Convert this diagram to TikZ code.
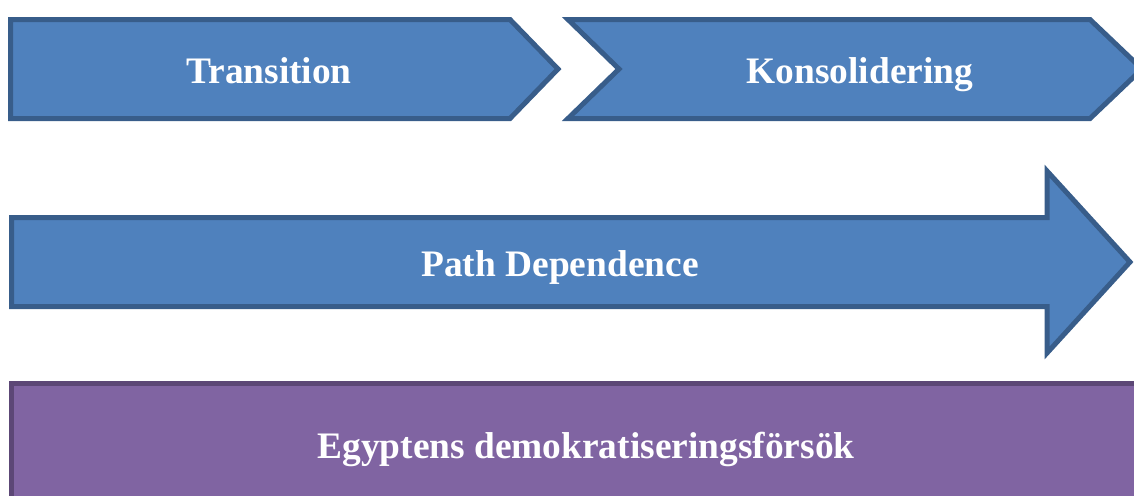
\documentclass[tikz,border=0pt]{standalone}
\usepackage{fontspec}
\setmainfont{Liberation Serif}
\usetikzlibrary{arrows}
\definecolor{phaseblue}{HTML}{4F81BD}
\definecolor{phaseedge}{HTML}{385D8A}
\definecolor{casepurple}{HTML}{8064A2}
\definecolor{caseedge}{HTML}{5C4776}

\begin{document}
\begin{tikzpicture}[x=0.5pt,y=-0.5pt,line width=2.5pt,line join=miter]
	\tikzstyle{phase}=[fill=phaseblue,draw=phaseedge]
	\tikzstyle{case}=[fill=casepurple,draw=caseedge]
	\tikzstyle{heading}=[text=white,anchor=base,inner sep=0pt,font=\fontsize{18.7}{22}\selectfont\bfseries]

  \useasboundingbox (0,0) rectangle (1134,495);
  \clip (0,0) rectangle (1134,495);

  \draw[phase] (10.5,19.5) -- (510,19.5) -- (558,69) -- (510,118.5) -- (10.5,118.5) -- cycle;
  \draw[phase] (568,19.5) -- (1090,19.5) -- (1142,69) -- (1090,118.5) -- (568,118.5) -- (619,69) -- cycle;
  \draw[phase] (11.5,217.5) -- (1047,217.5) -- (1047,171) -- (1130,262) -- (1047,353)
               -- (1047,306.5) -- (11.5,306.5) -- cycle;
  \draw[case] (11.5,383.5) rectangle (1150,510);

  \node[heading] (T) at (269,83)  {Transition};
  \node[heading] (K) at (860,83)  {Konsolidering};
  \node[heading] (P) at (560,276) {Path Dependence};
  \node[heading] (E) at (586,458) {Egyptens demokratiseringsförsök};

\end{tikzpicture}
\end{document}
